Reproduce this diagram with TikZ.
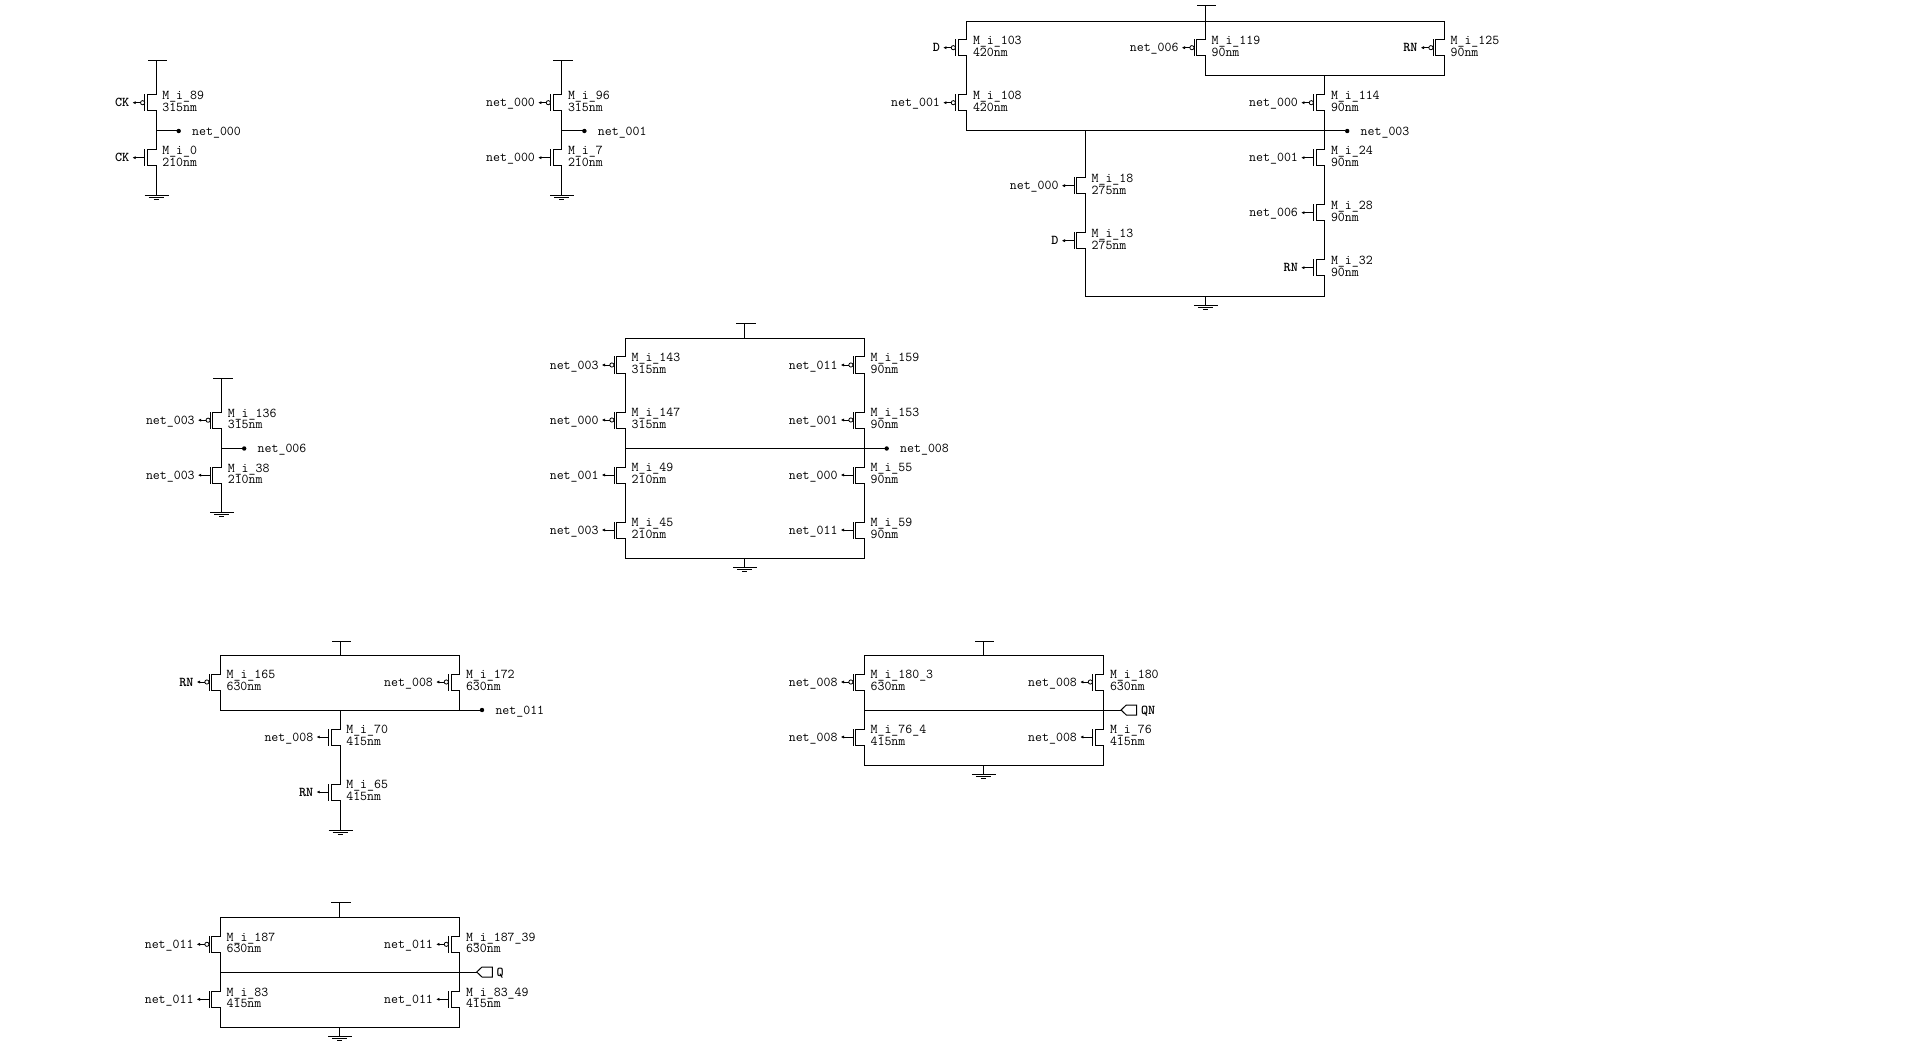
\documentclass[tikz,border=0pt]{standalone}
\usetikzlibrary{arrows.meta}
\tikzset{
  x=1pt,y=-1pt,
  wire/.style={line width=1pt,line cap=rect},
  gatearrow/.style={line width=.9pt,-{Latex[length=3.2pt,width=3.2pt]}},
  txt/.style={inner sep=0pt,outer sep=0pt,font=\fontsize{13.5}{13.5}\selectfont\ttfamily},
  namelab/.style={txt,anchor=base west},
  gatelab/.style={txt,anchor=base east},
  dotnode/.style={circle,fill=black,inner sep=0pt,minimum size=4.4pt},
}
% #1 id, #2 x, #3 y, #4 gate label, #5 name, #6 size
\newcommand\fetbody[6]{%
  \coordinate (#1-d) at (#2,#3-8);
  \coordinate (#1-s) at (#2,#3+8);
  \coordinate (#1-cd) at (#2-8.7,#3-8);
  \coordinate (#1-cs) at (#2-8.7,#3+8);
  \coordinate (#1-gd) at (#2-11.3,#3-8);
  \coordinate (#1-gs) at (#2-11.3,#3+8);
  \coordinate (#1-g) at (#2-11.3,#3);
  \coordinate (#1-a) at (#2-23.5,#3);
  \draw[wire] (#1-d) -- (#1-cd) -- (#1-cs) -- (#1-s);
  \draw[wire] (#1-gd) -- (#1-gs);
  \node[gatelab] (#1-gl) at (#2-26.8,#3+4.2) {#4};
  \node[namelab] (#1-n) at (#2+6.3,#3-3.2) {#5};
  \node[namelab] (#1-w) at (#2+6.3,#3+8.5) {#6};
}
\newcommand\pfet[6]{\fetbody{#1}{#2}{#3}{#4}{#5}{#6}%
  \coordinate (#1-b) at (#2-15.5,#3);
  \draw[line width=.8pt] (#2-13.4,#3) circle (2.1);
  \draw[gatearrow] (#1-b) -- (#1-a);
}
\newcommand\nfet[6]{\fetbody{#1}{#2}{#3}{#4}{#5}{#6}%
  \draw[gatearrow] (#1-g) -- (#1-a);
}
% #1 id, #2 x, #3 bar y, #4 y of the wire below
\newcommand\vdd[4]{%
  \coordinate (#1) at (#2,#3);
  \coordinate (#1-l) at (#2-8,#3);
  \coordinate (#1-r) at (#2+10.5,#3);
  \draw[wire] (#1-l) -- (#1-r);
  \draw[wire] (#1) -- (#2,#4);
}
\newcommand\gnd[4]{%
  \coordinate (#1) at (#2,#3);
  \coordinate (#1-l) at (#2-11.5,#3);
  \coordinate (#1-r) at (#2+12.5,#3);
  \coordinate (#1-ml) at (#2-7.5,#3+2);
  \coordinate (#1-mr) at (#2+7.5,#3+2);
  \coordinate (#1-sl) at (#2-2.5,#3+4);
  \coordinate (#1-sr) at (#2+2.7,#3+4);
  \draw[line width=.8pt] (#1-l) -- (#1-r);
  \draw[line width=.7pt] (#1-ml) -- (#1-mr);
  \draw[line width=.8pt] (#1-sl) -- (#1-sr);
  \draw[wire] (#1) -- (#2,#4);
}
% #1 id, #2 x, #3 y, #4 label
\newcommand\outnet[4]{%
  \node[dotnode] (#1) at (#2,#3) {};
  \node[namelab] (#1-t) at (#2+13.5,#3+4.2) {#4};
}
% pin pointing left: #1 id, #2 tip x, #3 y, #4 label
\newcommand\pin[4]{%
  \coordinate (#1) at (#2,#3);
  \draw[wire] (#1) -- (#2+5.3,#3-5) -- (#2+15.6,#3-5) -- (#2+15.6,#3+5) -- (#2+5.3,#3+5) -- cycle;
  \node[namelab,font=\fontsize{13.5}{13.5}\selectfont\ttfamily\bfseries] (#1-t) at (#2+20,#3+4.2) {#4};
}
\newcommand\bl[1]{\textbf{#1}}
\begin{document}
\begin{tikzpicture}
\useasboundingbox (0,0) rectangle (1932,1048);

% ---- inverter 1
\pfet{a1}{156}{102.7}{\bl{CK}}{M\_i\_89}{315nm}
\nfet{a2}{156}{157.7}{\bl{CK}}{M\_i\_0}{210nm}
\vdd{a-v}{156}{61}{94.7}
\gnd{a-g}{156}{195}{165.7}
\coordinate (a-j) at (156,131);
\outnet{a-o}{178.7}{131}{net\_000}
\draw[wire] (a1-s) -- (a2-d);
\draw[wire] (a-j) -- (a-o);

% ---- inverter 2
\pfet{b1}{561.7}{102.7}{net\_000}{M\_i\_96}{315nm}
\nfet{b2}{561.7}{157.7}{net\_000}{M\_i\_7}{210nm}
\vdd{b-v}{561.7}{61}{94.7}
\gnd{b-g}{561.7}{195}{165.7}
\coordinate (b-j) at (561.7,131);
\outnet{b-o}{584.4}{131}{net\_001}
\draw[wire] (b1-s) -- (b2-d);
\draw[wire] (b-j) -- (b-o);

% ---- complex gate, top
\pfet{c1}{966.7}{47.7}{\bl{D}}{M\_i\_103}{420nm}
\pfet{c2}{966.7}{102.7}{net\_001}{M\_i\_108}{420nm}
\pfet{c3}{1205.3}{47.7}{net\_006}{M\_i\_119}{90nm}
\pfet{c4}{1444.3}{47.7}{\bl{RN}}{M\_i\_125}{90nm}
\pfet{c5}{1324.7}{102.7}{net\_000}{M\_i\_114}{90nm}
\nfet{c6}{1324.7}{157.7}{net\_001}{M\_i\_24}{90nm}
\nfet{c7}{1324.7}{212.7}{net\_006}{M\_i\_28}{90nm}
\nfet{c8}{1324.7}{267.7}{\bl{RN}}{M\_i\_32}{90nm}
\nfet{c9}{1085.3}{185.7}{net\_000}{M\_i\_18}{275nm}
\nfet{c10}{1085.3}{240.7}{\bl{D}}{M\_i\_13}{275nm}
\vdd{c-v}{1205.3}{6}{21.3}
\gnd{c-g}{1205.3}{305.5}{296.5}
\coordinate (c-tl) at (966.7,21.3);
\coordinate (c-tm) at (1205.3,21.3);
\coordinate (c-tr) at (1444.3,21.3);
\coordinate (c-ml) at (1205.3,75.5);
\coordinate (c-mm) at (1324.7,75.5);
\coordinate (c-mr) at (1444.3,75.5);
\coordinate (c-nl) at (966.7,131);
\coordinate (c-nm) at (1085.3,131);
\coordinate (c-bl) at (1085.3,296.5);
\coordinate (c-br) at (1324.7,296.5);
\outnet{c-o}{1347.2}{131}{net\_003}
\draw[wire] (c1-d) -- (c-tl) -- (c-tr) -- (c4-d);
\draw[wire] (c-tm) -- (c3-d);
\draw[wire] (c1-s) -- (c2-d);
\draw[wire] (c2-s) -- (c-nl) -- (c-o);
\draw[wire] (c3-s) -- (c-ml) -- (c-mr) -- (c4-s);
\draw[wire] (c-mm) -- (c5-d);
\draw[wire] (c5-s) -- (c6-d);
\draw[wire] (c6-s) -- (c7-d);
\draw[wire] (c7-s) -- (c8-d);
\draw[wire] (c8-s) -- (c-br) -- (c-bl) -- (c10-s);
\draw[wire] (c10-d) -- (c9-s);
\draw[wire] (c9-d) -- (c-nm);

% ---- inverter 3
\pfet{d1}{221.5}{420.2}{net\_003}{M\_i\_136}{315nm}
\nfet{d2}{221.5}{475.2}{net\_003}{M\_i\_38}{210nm}
\vdd{d-v}{221.5}{378.5}{412.2}
\gnd{d-g}{221.5}{512.5}{483.2}
\coordinate (d-j) at (221.5,448.5);
\outnet{d-o}{244.2}{448.5}{net\_006}
\draw[wire] (d1-s) -- (d2-d);
\draw[wire] (d-j) -- (d-o);

% ---- complex gate, middle
\pfet{e1}{625.3}{365}{net\_003}{M\_i\_143}{315nm}
\pfet{e2}{625.3}{420}{net\_000}{M\_i\_147}{315nm}
\nfet{e3}{625.3}{475}{net\_001}{M\_i\_49}{210nm}
\nfet{e4}{625.3}{530}{net\_003}{M\_i\_45}{210nm}
\pfet{e5}{864.3}{365}{net\_011}{M\_i\_159}{90nm}
\pfet{e6}{864.3}{420}{net\_001}{M\_i\_153}{90nm}
\nfet{e7}{864.3}{475}{net\_000}{M\_i\_55}{90nm}
\nfet{e8}{864.3}{530}{net\_011}{M\_i\_59}{90nm}
\vdd{e-v}{744.5}{324}{338.3}
\gnd{e-g}{744.5}{567}{558.5}
\coordinate (e-tl) at (625.3,338.3);
\coordinate (e-tr) at (864.3,338.3);
\coordinate (e-bl) at (625.3,558.5);
\coordinate (e-br) at (864.3,558.5);
\coordinate (e-nl) at (625.3,448.5);
\outnet{e-o}{886.7}{448.5}{net\_008}
\draw[wire] (e1-d) -- (e-tl) -- (e-tr) -- (e5-d);
\draw[wire] (e4-s) -- (e-bl) -- (e-br) -- (e8-s);
\draw[wire] (e1-s) -- (e2-d);
\draw[wire] (e2-s) -- (e3-d);
\draw[wire] (e3-s) -- (e4-d);
\draw[wire] (e5-s) -- (e6-d);
\draw[wire] (e6-s) -- (e7-d);
\draw[wire] (e7-s) -- (e8-d);
\draw[wire] (e-nl) -- (e-o);

% ---- NAND
\pfet{f1}{220.3}{682}{\bl{RN}}{M\_i\_165}{630nm}
\pfet{f2}{459.7}{682}{net\_008}{M\_i\_172}{630nm}
\nfet{f3}{340}{737}{net\_008}{M\_i\_70}{415nm}
\nfet{f4}{340}{792}{\bl{RN}}{M\_i\_65}{415nm}
\vdd{f-v}{340}{641}{655.5}
\gnd{f-g}{340}{830}{800}
\coordinate (f-tl) at (220.3,655.5);
\coordinate (f-tr) at (459.7,655.5);
\coordinate (f-nl) at (220.3,710);
\coordinate (f-nm) at (340,710);
\coordinate (f-nr) at (459.7,710);
\outnet{f-o}{482}{710}{net\_011}
\draw[wire] (f1-d) -- (f-tl) -- (f-tr) -- (f2-d);
\draw[wire] (f1-s) -- (f-nl) -- (f-o);
\draw[wire] (f2-s) -- (f-nr);
\draw[wire] (f-nm) -- (f3-d);
\draw[wire] (f3-s) -- (f4-d);

% ---- output buffer QN
\pfet{g1}{864.3}{682}{net\_008}{M\_i\_180\_3}{630nm}
\pfet{g2}{1103.7}{682}{net\_008}{M\_i\_180}{630nm}
\nfet{g3}{864.3}{737}{net\_008}{M\_i\_76\_4}{415nm}
\nfet{g4}{1103.7}{737}{net\_008}{M\_i\_76}{415nm}
\vdd{g-v}{983.3}{641}{655.5}
\gnd{g-g}{983.3}{774.5}{765.5}
\coordinate (g-tl) at (864.3,655.5);
\coordinate (g-tr) at (1103.7,655.5);
\coordinate (g-bl) at (864.3,765.5);
\coordinate (g-br) at (1103.7,765.5);
\coordinate (g-nl) at (864.3,710);
\pin{g-p}{1121}{710}{QN}
\draw[wire] (g1-d) -- (g-tl) -- (g-tr) -- (g2-d);
\draw[wire] (g3-s) -- (g-bl) -- (g-br) -- (g4-s);
\draw[wire] (g1-s) -- (g3-d);
\draw[wire] (g2-s) -- (g4-d);
\draw[wire] (g-nl) -- (g-p);

% ---- output buffer Q
\pfet{h1}{220.3}{944.3}{net\_011}{M\_i\_187}{630nm}
\pfet{h2}{459.7}{944.3}{net\_011}{M\_i\_187\_39}{630nm}
\nfet{h3}{220.3}{999.3}{net\_011}{M\_i\_83}{415nm}
\nfet{h4}{459.7}{999.3}{net\_011}{M\_i\_83\_49}{415nm}
\vdd{h-v}{339.5}{902}{917.3}
\gnd{h-g}{339.5}{1036}{1027}
\coordinate (h-tl) at (220.3,917.3);
\coordinate (h-tr) at (459.7,917.3);
\coordinate (h-bl) at (220.3,1027);
\coordinate (h-br) at (459.7,1027);
\coordinate (h-nl) at (220.3,972);
\pin{h-p}{476.7}{972}{Q}
\draw[wire] (h1-d) -- (h-tl) -- (h-tr) -- (h2-d);
\draw[wire] (h3-s) -- (h-bl) -- (h-br) -- (h4-s);
\draw[wire] (h1-s) -- (h3-d);
\draw[wire] (h2-s) -- (h4-d);
\draw[wire] (h-nl) -- (h-p);
\end{tikzpicture}
\end{document}
